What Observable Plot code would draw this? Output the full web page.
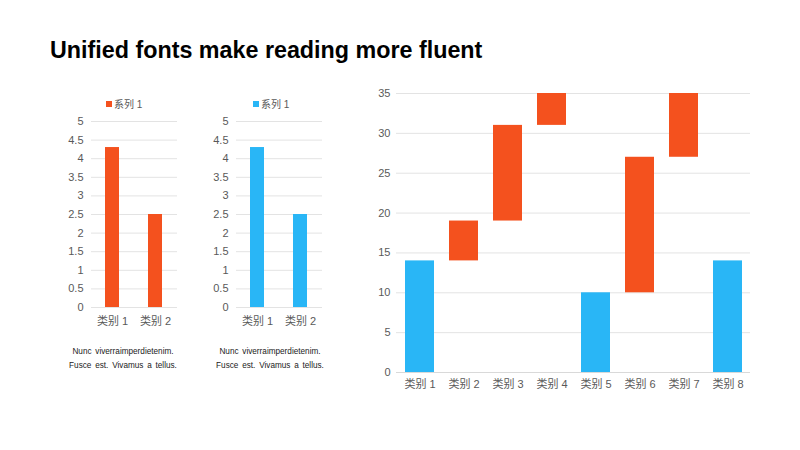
<!DOCTYPE html>
<html><head><meta charset="utf-8">
<script src="https://cdn.jsdelivr.net/npm/d3@7"></script>
<script src="https://cdn.jsdelivr.net/npm/@observablehq/plot@0.6"></script>
<style>
body{margin:0;background:#fff;font-family:"Liberation Sans","Noto Sans CJK SC",Arial,sans-serif;}
#wrap{position:relative;width:800px;height:450px;overflow:hidden;}
h1{position:absolute;left:50px;top:37px;margin:0;font-size:23.3px;font-weight:bold;color:#000;white-space:nowrap;}
.legend{position:absolute;font-size:10px;color:#595959;white-space:nowrap;display:flex;align-items:center;}
.legend i{display:inline-block;width:6px;height:6px;margin-right:2px;}
.cap{position:absolute;font-size:8.2px;line-height:13.5px;color:#222;text-align:center;width:160px;white-space:nowrap;word-spacing:1.5px;}
</style></head>
<body><div id="wrap">
<h1>Unified fonts make reading more fluent</h1>
</div>
<script>
const smallCats = ["类别 1", "类别 2"];
const smallVals = [4.3, 2.5];
const seriesName = "系列 1";
const smallTicks = [0, 0.5, 1, 1.5, 2, 2.5, 3, 3.5, 4, 4.5, 5];
const captionLines = ["Nunc viverraimperdietenim.", "Fusce est. Vivamus a tellus."];

const wfCats = ["类别 1","类别 2","类别 3","类别 4","类别 5","类别 6","类别 7","类别 8"];
const wfStart = [0, 14, 19, 31, 0, 10, 27, 0];
const wfEnd   = [14, 19, 31, 35, 10, 27, 35, 14];
const wfType  = ["total","delta","delta","delta","total","delta","delta","total"];
const wfTicks = [0,5,10,15,20,25,30,35];

const RED = "#F4511E", BLUE = "#29B6F6", GRID = "#e3e3e3", TXT = "#595959";
const FONT = '"Liberation Sans","Noto Sans CJK SC",Arial,sans-serif';
const wrap = document.getElementById("wrap");

function place(el, left, top){ el.style.position="absolute"; el.style.left=left+"px"; el.style.top=top+"px"; wrap.appendChild(el); }

function small(color, left, legendCenter, capCenter){
  const data = smallCats.map((c,i)=>({c, v: smallVals[i]}));
  const p = Plot.plot({
    width: 147, height: 225,
    marginLeft: 51, marginRight: 10, marginTop: 10, marginBottom: 29,
    style: {fontFamily: FONT, fontSize: "11px", color: TXT, background: "transparent"},
    x: {domain: smallCats, paddingInner: 0.67, paddingOuter: 0.335, label: null},
    y: {domain: [0,5], label: null},
    marks: [
      Plot.gridY(smallTicks, {stroke: GRID, strokeOpacity: 1}),
      Plot.barY(data, {x: "c", y: "v", fill: color}),
      Plot.axisY({ticks: smallTicks, tickSize: 0, tickPadding: 8, tickFormat: d=>String(d), label: null}),
      Plot.axisX({tickSize: 0, tickPadding: 10, label: null})
    ]
  });
  place(p, left, 111);
  const lg = document.createElement("div");
  lg.className = "legend";
  lg.innerHTML = `<i style="background:${color}"></i>${seriesName}`;
  wrap.appendChild(lg);
  lg.style.top = "96px";
  lg.style.left = (legendCenter - lg.offsetWidth/2) + "px";
  const cap = document.createElement("div");
  cap.className = "cap";
  cap.innerHTML = captionLines.join("<br>");
  cap.style.top = "345px";
  cap.style.left = (capCenter - 80) + "px";
  wrap.appendChild(cap);
}
small(RED, 40, 124, 123);
small(BLUE, 185, 271, 270);

const wf = wfCats.map((c,i)=>({c, y1: wfStart[i], y2: wfEnd[i], t: wfType[i]}));
const big = Plot.plot({
  width: 410, height: 315,
  marginLeft: 46, marginRight: 10, marginTop: 10, marginBottom: 26,
  style: {fontFamily: FONT, fontSize: "11px", color: TXT, background: "transparent"},
  x: {domain: wfCats, paddingInner: 0.345, paddingOuter: 0.1725, label: null},
  y: {domain: [0,35], label: null},
  color: {domain: ["total","delta"], range: [BLUE, RED]},
  marks: [
    Plot.gridY(wfTicks, {stroke: GRID, strokeOpacity: 1}),
    Plot.ruleY([0], {stroke: "#d9d9d9"}),
    Plot.barY(wf, {x: "c", y1: "y1", y2: "y2", fill: "t"}),
    Plot.axisY({ticks: wfTicks, tickSize: 0, tickPadding: 6, label: null}),
    Plot.axisX({tickSize: 0, tickPadding: 8, label: null})
  ]
});
place(big, 350, 83);
</script>
</body></html>
